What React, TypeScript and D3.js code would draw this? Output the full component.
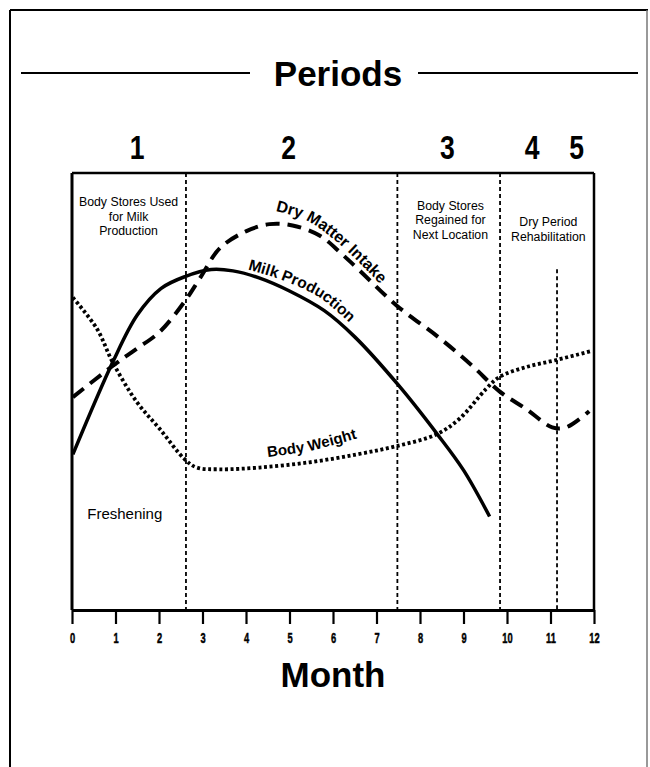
import React, { useRef, useEffect } from "react";
import * as d3 from "d3";

// month ticks along the bottom
const monthTicks = [0, 1, 2, 3, 4, 5, 6, 7, 8, 9, 10, 11, 12];

// period numbers and where they sit (in months)
const periodNames = ["1", "2", "3", "4", "5"];
const periodCentres = [1.5, 4.98, 8.63, 10.58, 11.6];

// period boundaries (months)
const periodBounds = [2.62, 7.48, 9.84];
const rehabBound = 11.15;
const rehabTop = 78;

// curves: [month, relative level 0-100]
const milkProduction = [
  [0.02, 35.6], [0.94, 56.8], [1.5, 67.5], [2.05, 73.6], [2.6, 76.3],
  [3.2, 77.9], [3.7, 77.6], [4.3, 76.0], [5.0, 73.0], [5.8, 68.5],
  [6.5, 62.5], [7.5, 51.5], [8.4, 40.2], [9.0, 32.0], [9.6, 21.4]
];

const dryMatterIntake = [
  [0.02, 48.7], [0.94, 55.9], [1.49, 59.8], [2.02, 63.7], [2.59, 70.6],
  [2.94, 75.9], [3.4, 82.8], [4.01, 86.7], [4.54, 88.3], [5.07, 88.0],
  [5.69, 85.7], [6.2, 81.5], [6.6, 77.8], [7.46, 69.7], [8.44, 62.3],
  [9.2, 55.9], [9.82, 50.1], [10.44, 46.0], [11.04, 41.8], [11.36, 41.8],
  [11.89, 45.5]
];

const bodyWeight = [
  [0.02, 71.5], [0.57, 64.4], [0.94, 56.6], [1.49, 47.6], [2.02, 41.4],
  [2.59, 34.5], [2.87, 32.6], [3.4, 32.2], [4.31, 32.6], [5.46, 33.8],
  [6.54, 35.6], [7.46, 37.5], [8.38, 40.2], [8.9, 43.7], [9.52, 50.6],
  [9.82, 53.3], [10.44, 55.6], [11.13, 57.2], [11.95, 59.3]
];

// curve label baselines
const dmiLabelPath = [[4.68, 91.3], [5.41, 89.0], [6.15, 83.7], [7.11, 74.3]];
const milkLabelPath = [[4.04, 77.9], [4.77, 75.7], [5.69, 71.5], [6.42, 65.3]];
const bwLabelPath = [[4.5, 35.0], [5.46, 36.4], [6.56, 39.3]];

const periodNotes = [
  { month: 1.3, level: 92.4, lines: ["Body Stores Used", "for Milk", "Production"] },
  { month: 8.7, level: 91.5, lines: ["Body Stores", "Regained for", "Next Location"] },
  { month: 10.95, level: 87.8, lines: ["Dry Period", "Rehabilitation"] }
];

const width = 650;
const height = 767;
const margin = { top: 173, right: 56, bottom: 157, left: 72 };
const sans = "'Liberation Sans', Arial, Helvetica, sans-serif";

const App = () => {
  const svgRef = useRef(null);

  useEffect(() => {
    const svg = d3.select(svgRef.current);
    svg.selectAll("*").remove();

    const x = d3
      .scaleLinear()
      .domain([0, 12])
      .range([margin.left, width - margin.right]);

    const y = d3
      .scaleLinear()
      .domain([0, 100])
      .range([height - margin.bottom, margin.top]);

    // outer frame
    svg.append("line").attr("x1", 10).attr("y1", 10).attr("x2", 10).attr("y2", height)
      .attr("stroke", "#000").attr("stroke-width", 2);
    svg.append("line").attr("x1", 10).attr("y1", 10).attr("x2", 648).attr("y2", 10)
      .attr("stroke", "#000").attr("stroke-width", 2);
    svg.append("line").attr("x1", 647).attr("y1", 10).attr("x2", 647).attr("y2", height)
      .attr("stroke", "#777").attr("stroke-width", 1.5);

    // title
    svg.append("line").attr("x1", 21).attr("x2", 250).attr("y1", 73).attr("y2", 73)
      .attr("stroke", "#000").attr("stroke-width", 2);
    svg.append("line").attr("x1", 418).attr("x2", 638).attr("y1", 73).attr("y2", 73)
      .attr("stroke", "#000").attr("stroke-width", 2);
    svg.append("text")
      .attr("x", 338).attr("y", 86)
      .attr("text-anchor", "middle")
      .attr("font-family", sans).attr("font-weight", "bold").attr("font-size", 35)
      .text("Periods");

    // period numbers
    periodNames.forEach((p, i) => {
      svg.append("text")
        .attr("transform", `translate(${x(periodCentres[i])},159) scale(0.78,1)`)
        .attr("text-anchor", "middle")
        .attr("font-family", sans).attr("font-weight", "bold").attr("font-size", 34)
        .text(p);
    });

    // period boundaries
    periodBounds.forEach((m) => {
      svg.append("line")
        .attr("x1", x(m)).attr("x2", x(m))
        .attr("y1", y(100)).attr("y2", y(0))
        .attr("stroke", "#000").attr("stroke-width", 1.8)
        .attr("stroke-dasharray", "4,3");
    });
    svg.append("line")
      .attr("x1", x(rehabBound)).attr("x2", x(rehabBound))
      .attr("y1", y(rehabTop)).attr("y2", y(0))
      .attr("stroke", "#000").attr("stroke-width", 1.8)
      .attr("stroke-dasharray", "4,3");

    // plot box
    svg.append("line").attr("x1", x(0)).attr("x2", x(12)).attr("y1", y(100)).attr("y2", y(100))
      .attr("stroke", "#000").attr("stroke-width", 2.5);
    svg.append("line").attr("x1", x(12)).attr("x2", x(12)).attr("y1", y(100)).attr("y2", y(0))
      .attr("stroke", "#000").attr("stroke-width", 2.5);
    svg.append("line").attr("x1", x(0)).attr("x2", x(0)).attr("y1", y(100)).attr("y2", y(0))
      .attr("stroke", "#000").attr("stroke-width", 3);

    // x axis
    const xAxis = svg.append("g")
      .attr("transform", `translate(0,${y(0)})`)
      .call(d3.axisBottom(x).tickValues(monthTicks).tickSize(14).tickSizeOuter(0).tickFormat(d3.format("d")));
    xAxis.select(".domain").attr("stroke-width", 3);
    xAxis.selectAll(".tick line").attr("stroke-width", 2.2);
    xAxis.selectAll(".tick text")
      .attr("y", 0)
      .attr("dy", 0)
      .attr("transform", "translate(0,33) scale(0.62,1)")
      .attr("font-family", sans).attr("font-weight", "bold").attr("font-size", 15)
      .attr("stroke", "#000").attr("stroke-width", 0.5)
      .attr("fill", "#000");

    svg.append("text")
      .attr("x", (x(0) + x(12)) / 2).attr("y", 687)
      .attr("text-anchor", "middle")
      .attr("font-family", sans).attr("font-weight", "bold").attr("font-size", 35)
      .text("Month");

    // period notes
    periodNotes.forEach((n) => {
      const t = svg.append("text")
        .attr("x", x(n.month)).attr("y", y(n.level))
        .attr("text-anchor", "middle")
        .attr("font-family", sans).attr("font-size", 12.3);
      n.lines.forEach((l, i) => {
        t.append("tspan").attr("x", x(n.month)).attr("dy", i === 0 ? 0 : 14.3).text(l);
      });
    });

    svg.append("text")
      .attr("x", x(0.35)).attr("y", 519)
      .attr("font-family", sans).attr("font-size", 15)
      .text("Freshening");

    // curves
    const line = d3.line()
      .x((d) => x(d[0]))
      .y((d) => y(d[1]))
      .curve(d3.curveCatmullRom.alpha(0.5));

    svg.append("path")
      .attr("d", line(bodyWeight))
      .attr("fill", "none").attr("stroke", "#000")
      .attr("stroke-width", 3.8).attr("stroke-dasharray", "3,2.6");

    svg.append("path")
      .attr("d", line(dryMatterIntake))
      .attr("fill", "none").attr("stroke", "#000")
      .attr("stroke-width", 4).attr("stroke-dasharray", "14,8");

    svg.append("path")
      .attr("d", line(milkProduction))
      .attr("fill", "none").attr("stroke", "#000")
      .attr("stroke-width", 3.5);

    // curve labels
    const labels = [
      { id: "dmiLabel", pts: dmiLabelPath, text: "Dry Matter Intake", size: 16 },
      { id: "milkLabel", pts: milkLabelPath, text: "Milk Production", size: 15.5 },
      { id: "bwLabel", pts: bwLabelPath, text: "Body Weight", size: 15 }
    ];
    const defs = svg.append("defs");
    labels.forEach((l) => {
      defs.append("path").attr("id", l.id).attr("d", line(l.pts));
      svg.append("text")
        .attr("font-family", sans).attr("font-weight", "bold").attr("font-size", l.size)
        .append("textPath")
        .attr("href", `#${l.id}`)
        .text(l.text);
    });
  }, []);

  return (
    <svg
      ref={svgRef}
      width={width}
      height={height}
      style={{ position: "absolute", left: 0, top: 0, background: "#fff" }}
      xmlns="http://www.w3.org/2000/svg"
    />
  );
};

export default App;
